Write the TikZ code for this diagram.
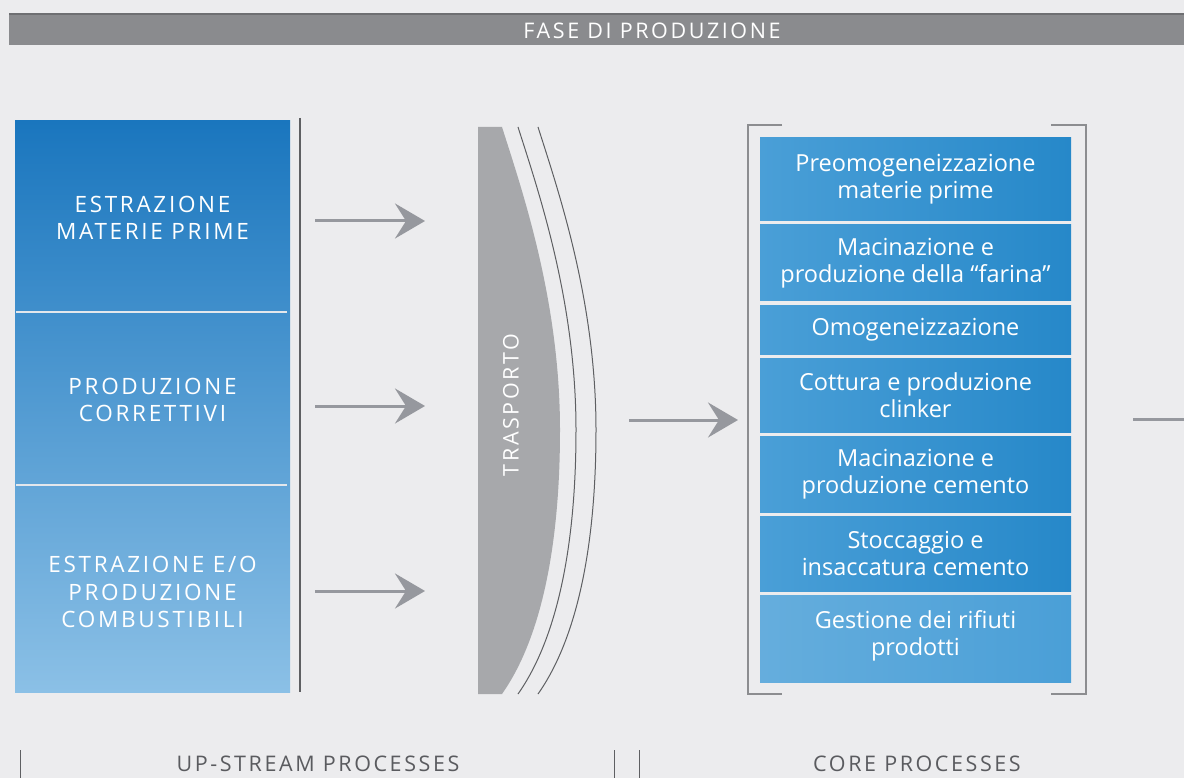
\documentclass[tikz,border=0pt]{standalone}
\usepackage{fontspec}
\setmainfont{Open Sans}
\newfontfamily\spaced[LetterSpace=12]{Open Sans}
\usetikzlibrary{arrows.meta}
\definecolor{bg}{HTML}{ECECEE}
\definecolor{barfill}{HTML}{8A8B8E}
\definecolor{barline}{HTML}{6E6F72}
\definecolor{arrowgray}{HTML}{96989E}
\definecolor{trgray}{HTML}{A7A8AB}
\definecolor{linegray}{HTML}{5E5F62}
\definecolor{brgray}{HTML}{8C8D90}
\definecolor{bluedark}{HTML}{1A76BE}
\definecolor{bluemid}{HTML}{3590D0}
\definecolor{bluelight}{HTML}{8BC0E6}
\definecolor{boxL}{HTML}{4A9FD7}
\definecolor{boxR}{HTML}{2688C9}
\definecolor{labelgray}{HTML}{5A5B5F}
\definecolor{sepline}{HTML}{E3E7EC}
\tikzset{
  arr/.style={draw=arrowgray, line width=3pt, -{Stealth[length=30pt,width=35pt,inset=11pt]}},
  leftlbl/.style={text=white, align=center, font=\spaced\fontsize{22.5}{27.5}\selectfont, minimum width=275pt},
  rbox/.style={left color=boxL, right color=boxR, text=white, align=center, minimum width=311pt, inner sep=0pt, font=\fontsize{23.5}{27}\selectfont},
  brk/.style={draw=brgray, line width=2pt},
  thinline/.style={draw=linegray, line width=1.2pt},
  bottomlbl/.style={text=labelgray, font=\spaced\fontsize{21.5}{22}\selectfont}
}
\begin{document}
\begin{tikzpicture}[x=1pt,y=-1pt]
\useasboundingbox (0,0) rectangle (1184,778);
\fill[bg] (0,0) rectangle (1184,778);

% header
\fill[barfill] (9,14) rectangle (1184,45.5);
\draw[barline, line width=2pt] (9,14) -- (1184,14);
\node[text=white, font=\spaced\fontsize{21.5}{22}\selectfont] (hdr) at (652,31) {FASE DI PRODUZIONE};

% left panel
\shade[top color=bluedark, middle color=bluemid, bottom color=bluelight] (15,121) rectangle (290,692);
\draw[sepline, line width=2pt] (16,312) -- (287,312);
\draw[sepline, line width=2pt] (16,485) -- (287,485);
\node[leftlbl] (e1) at (152.5,218) {ESTRAZIONE\\MATERIE PRIME};
\node[leftlbl] (e2) at (152.5,400) {PRODUZIONE\\CORRETTIVI};
\node[leftlbl] (e3) at (152.5,592) {ESTRAZIONE E/O\\PRODUZIONE\\COMBUSTIBILI};
\draw[thinline] (300,118) -- (300,692);

% transport shape
\fill[trgray] (478,127) -- (502,127) .. controls (522,190) and (560,300) .. (560,430)
  .. controls (560,550) and (540,640) .. (502,694) -- (478,694) -- cycle;
\foreach \dx in {16,36} {
  \draw[thinline, line width=1pt] (502+\dx,127) .. controls (522+\dx,190) and (560+\dx,300) .. (560+\dx,430)
    .. controls (560+\dx,550) and (540+\dx,640) .. (502+\dx,694);
}
\node[rotate=90, text=white, font=\spaced\fontsize{21.5}{22}\selectfont] (tr) at (511,405) {TRASPORTO};

% arrows into transport
\coordinate (a1s) at (315,221); \coordinate (a1e) at (425,221);
\coordinate (a2s) at (315,406); \coordinate (a2e) at (425,406);
\coordinate (a3s) at (315,591); \coordinate (a3e) at (425,591);
\draw[arr] (a1s) -- (a1e);
\draw[arr] (a2s) -- (a2e);
\draw[arr] (a3s) -- (a3e);

% middle arrow
\coordinate (ms) at (629,420); \coordinate (me) at (738,420);
\draw[arr] (ms) -- (me);

% bracket
\draw[brk] (782,125) -- (748,125) -- (748,694) -- (782,694);
\draw[brk] (1051,125) -- (1086,125) -- (1086,694) -- (1051,694);

% core boxes
\node[rbox, minimum height=83pt] (b1) at (915.5,179.5) {Preomogeneizzazione\\materie prime};
\node[rbox, minimum height=76pt] (b2) at (915.5,263) {Macinazione e\\produzione della “farina”};
\node[rbox, minimum height=49pt] (b3) at (915.5,329.5) {Omogeneizzazione};
\node[rbox, minimum height=74pt] (b4) at (915.5,395) {Cottura e produzione\\clinker};
\node[rbox, minimum height=76pt] (b5) at (915.5,474) {Macinazione e\\produzione cemento};
\node[rbox, minimum height=75pt] (b6) at (915.5,553.5) {Stoccaggio e\\insaccatura cemento};
\node[rbox, minimum height=87pt, left color=boxL!85!white, right color=boxL] (b7) at (915.5,638.5) {};
\node[text=white, align=center, font=\fontsize{23.5}{27}\selectfont] (b7t) at (b7.center) [yshift=3pt] {Gestione dei rifiuti\\prodotti};

% outgoing line (cut off)
\coordinate (os) at (1133,419); \coordinate (oe) at (1184,419);
\draw[draw=arrowgray, line width=3pt] (os) -- (oe);

% bottom labels
\draw[thinline, line width=1pt] (20.5,750) -- (20.5,778);
\draw[thinline, line width=1pt] (614,750) -- (614,778);
\draw[thinline, line width=1pt] (639,750) -- (639,778);
\node[bottomlbl] (up) at (318,764) {UP-STREAM PROCESSES};
\node[bottomlbl] (core) at (917,764) {CORE PROCESSES};
\end{tikzpicture}
\end{document}
